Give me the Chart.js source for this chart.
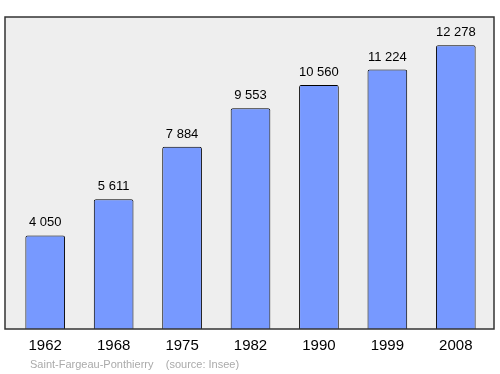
<!DOCTYPE html>
<html>
<head>
<meta charset="utf-8">
<script src="https://cdn.jsdelivr.net/npm/chart.js@4"></script>
<style>
  html, body { margin: 0; padding: 0; background: #fff; }
  #wrap { width: 500px; height: 374px; }
</style>
</head>
<body>
<div id="wrap"><canvas id="chart" width="500" height="374"></canvas></div>
<script>
// Population data
const years = ['1962', '1968', '1975', '1982', '1990', '1999', '2008'];
const population = [4050, 5611, 7884, 9553, 10560, 11224, 12278];
const sourceText = 'Saint-Fargeau-Ponthierry    (source: Insee)';

// Format like "12 278"
function formatNumber(value) {
  return String(value).replace(/\B(?=(\d{3})+(?!\d))/g, ' ');
}

// Gray frame behind the bars
const framePlugin = {
  id: 'frame',
  beforeDatasetsDraw(chart) {
    const ctx = chart.ctx;
    const a = chart.chartArea;
    ctx.save();
    ctx.fillStyle = '#eeeeee';
    ctx.fillRect(5, a.top, 489, a.bottom - a.top);
    ctx.restore();
  },
  afterDatasetsDraw(chart) {
    const ctx = chart.ctx;
    const a = chart.chartArea;
    ctx.save();
    ctx.strokeStyle = '#333333';
    ctx.lineWidth = 1.5;
    ctx.strokeRect(5, a.top, 489, a.bottom - a.top);

    // value labels above bars
    ctx.fillStyle = '#000';
    ctx.font = '13px "Liberation Sans", Arial, sans-serif';
    ctx.textAlign = 'center';
    ctx.textBaseline = 'alphabetic';
    chart.getDatasetMeta(0).data.forEach((bar, i) => {
      ctx.fillText(formatNumber(population[i]), bar.x, bar.y - 9);
    });

    // source line
    ctx.fillStyle = '#aaaaaa';
    ctx.font = '11px "Liberation Sans", Arial, sans-serif';
    ctx.textAlign = 'left';
    ctx.fillText(sourceText, 30, 368);
    ctx.restore();
  }
};

new Chart(document.getElementById('chart'), {
  type: 'bar',
  data: {
    labels: years,
    datasets: [{
      data: population,
      backgroundColor: '#7799ff',
      borderColor: '#000',
      borderWidth: 1,
      borderRadius: 2,
      borderSkipped: 'bottom',
      barPercentage: 0.58,
      categoryPercentage: 1
    }]
  },
  options: {
    responsive: false,
    animation: false,
    layout: { padding: { left: 11, right: 10, top: 17, bottom: 11 } },
    scales: {
      x: {
        grid: { display: false, drawTicks: false },
        border: { display: false },
        ticks: {
          color: '#000',
          padding: 8,
          font: { family: '"Liberation Sans", Arial, sans-serif', size: 15 }
        }
      },
      y: {
        display: false,
        min: 0,
        max: 13500
      }
    },
    plugins: {
      legend: { display: false },
      tooltip: { enabled: false }
    }
  },
  plugins: [framePlugin]
});
</script>
</body>
</html>
